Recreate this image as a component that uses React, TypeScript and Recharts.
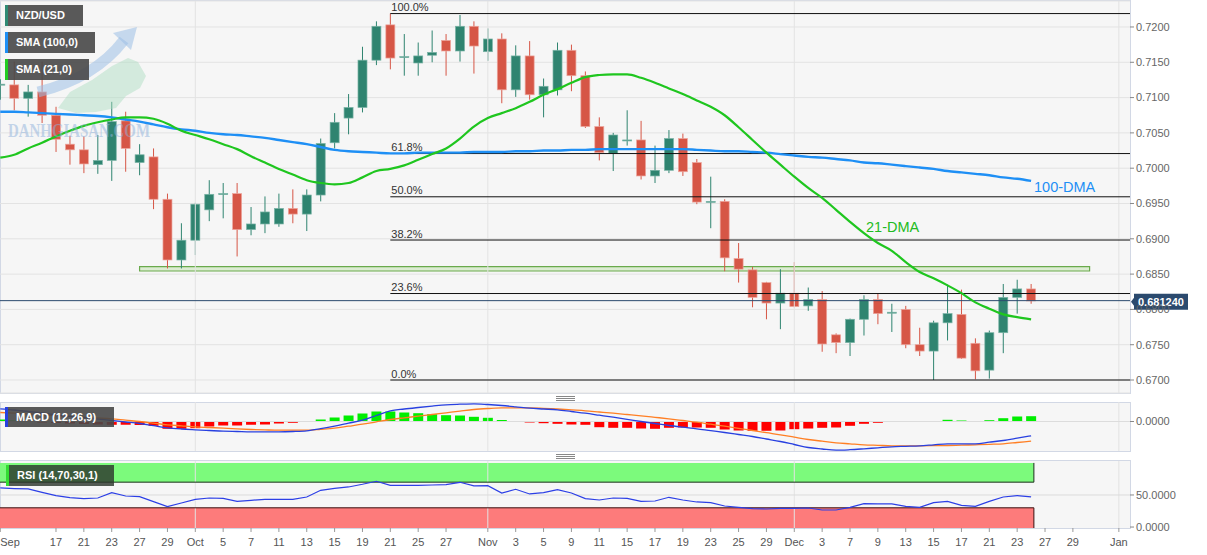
import React from "react";
import {
  ComposedChart,
  Bar,
  Line,
  XAxis,
  YAxis,
  CartesianGrid,
  ReferenceLine,
  ReferenceArea,
  Cell,
} from "recharts";

const FONT = "'Liberation Sans', Arial, sans-serif";

// trading days: index -4 = 13 Sep 2021, index 0 = 17 Sep, index 70 = 24 Dec
const firstIndex = -4;
const xDomain: [number, number] = [-4.02, 77.1];

const opens = [
  0.7118, 0.7118, 0.7099, 0.7108, 0.7075, 0.7034, 0.7026, 0.7005, 0.7011, 0.7067,
  0.7008, 0.7016, 0.6956, 0.6870, 0.6898, 0.6941, 0.6963, 0.6964, 0.6913, 0.6921,
  0.6921, 0.6943, 0.6935, 0.6962, 0.7036, 0.7071, 0.7086, 0.7153, 0.7203, 0.7157,
  0.7149, 0.7160, 0.7181, 0.7166, 0.7201, 0.7165, 0.7183, 0.7111, 0.7159, 0.7104,
  0.7111, 0.7167, 0.7131, 0.7059, 0.7021, 0.7039, 0.7040, 0.6989, 0.6997, 0.7042,
  0.7008, 0.6952, 0.6953, 0.6872, 0.6856, 0.6838, 0.6809, 0.6823, 0.6805, 0.6814,
  0.6764, 0.6753, 0.6786, 0.6814, 0.6795, 0.6800, 0.6750, 0.6741, 0.6781, 0.6793,
  0.6752, 0.6714, 0.6767, 0.6817, 0.6829,
];
const highs = [
  0.7126, 0.7151, 0.7118, 0.7151, 0.7087, 0.7046, 0.7045, 0.7047, 0.7094, 0.7080,
  0.7034, 0.7028, 0.6964, 0.6922, 0.6951, 0.6983, 0.6979, 0.6979, 0.6945, 0.6960,
  0.6964, 0.6970, 0.6970, 0.7042, 0.7078, 0.7105, 0.7172, 0.7208, 0.7219, 0.7190,
  0.7178, 0.7195, 0.7190, 0.7217, 0.7208, 0.7198, 0.7191, 0.7174, 0.7180, 0.7127,
  0.7178, 0.7175, 0.7137, 0.7072, 0.7050, 0.7082, 0.7067, 0.7032, 0.7054, 0.7049,
  0.7013, 0.6988, 0.6956, 0.6894, 0.6860, 0.6839, 0.6857, 0.6867, 0.6831, 0.6826,
  0.6766, 0.6787, 0.6820, 0.6822, 0.6808, 0.6805, 0.6774, 0.6784, 0.6835, 0.6828,
  0.6759, 0.6770, 0.6836, 0.6842, 0.6836,
];
const lows = [
  0.7097, 0.7082, 0.7073, 0.7064, 0.7023, 0.7005, 0.6993, 0.6992, 0.6982, 0.6995,
  0.6990, 0.6942, 0.6858, 0.6858, 0.6877, 0.6925, 0.6929, 0.6875, 0.6905, 0.6908,
  0.6917, 0.6922, 0.6911, 0.6953, 0.7028, 0.7048, 0.7079, 0.7146, 0.7140, 0.7131,
  0.7131, 0.7150, 0.7131, 0.7151, 0.7134, 0.7152, 0.7092, 0.7101, 0.7097, 0.7072,
  0.7103, 0.7109, 0.7057, 0.7011, 0.6996, 0.7032, 0.6984, 0.6979, 0.6993, 0.6989,
  0.6949, 0.6915, 0.6854, 0.6838, 0.6803, 0.6786, 0.6772, 0.6803, 0.6798, 0.6740,
  0.6738, 0.6734, 0.6763, 0.6779, 0.6768, 0.6745, 0.6734, 0.6700, 0.6756, 0.6730,
  0.6701, 0.6702, 0.6738, 0.6794, 0.6808,
];
const closes = [
  0.7119, 0.7099, 0.7108, 0.7075, 0.7041, 0.7026, 0.7006, 0.7011, 0.7066, 0.7028,
  0.7019, 0.6956, 0.6870, 0.6898, 0.6949, 0.6963, 0.6964, 0.6913, 0.6921, 0.6938,
  0.6943, 0.6935, 0.6962, 0.7035, 0.7065, 0.7086, 0.7153, 0.7201, 0.7156, 0.7158,
  0.7159, 0.7164, 0.7166, 0.7201, 0.7173, 0.7183, 0.7111, 0.7159, 0.7104, 0.7116,
  0.7167, 0.7131, 0.7059, 0.7022, 0.7047, 0.7040, 0.6989, 0.6997, 0.7042, 0.6995,
  0.6952, 0.6953, 0.6873, 0.6857, 0.6817, 0.6809, 0.6823, 0.6804, 0.6814, 0.6751,
  0.6753, 0.6786, 0.6814, 0.6794, 0.6796, 0.6750, 0.6741, 0.6781, 0.6794, 0.6731,
  0.6713, 0.6767, 0.6817, 0.6829, 0.6812,
];
const sma100 = [
  0.7080, 0.7080, 0.7079, 0.7078, 0.7077, 0.7076, 0.7075, 0.7074, 0.7072, 0.7069,
  0.7066, 0.7062, 0.7058, 0.7055, 0.7053, 0.7050, 0.7048, 0.7047, 0.7045, 0.7043,
  0.7040, 0.7037, 0.7034, 0.7030, 0.7026, 0.7024, 0.7023, 0.7022, 0.7021, 0.7021,
  0.7022, 0.7022, 0.7022, 0.7022, 0.7023, 0.7023, 0.7023, 0.7024, 0.7024, 0.7025,
  0.7025, 0.7026, 0.7026, 0.7027, 0.7027, 0.7027, 0.7027, 0.7027, 0.7027, 0.7027,
  0.7026, 0.7025, 0.7024, 0.7024, 0.7023, 0.7022, 0.7020, 0.7018, 0.7016, 0.7015,
  0.7013, 0.7011, 0.7008, 0.7007, 0.7005, 0.7003, 0.7001, 0.6999, 0.6996, 0.6994,
  0.6992, 0.6990, 0.6987, 0.6985, 0.6982,
];
const sma21 = [
  0.7015, 0.7019, 0.7028, 0.7036, 0.7045, 0.7053, 0.7060, 0.7065, 0.7069, 0.7072,
  0.7072, 0.7070, 0.7063, 0.7053, 0.7047, 0.7041, 0.7034, 0.7027, 0.7017, 0.7008,
  0.6999, 0.6991, 0.6983, 0.6979, 0.6977, 0.6979, 0.6987, 0.6996, 0.6999, 0.7004,
  0.7012, 0.7020, 0.7028, 0.7042, 0.7059, 0.7071, 0.7078, 0.7085, 0.7094, 0.7104,
  0.7112, 0.7121, 0.7129, 0.7132, 0.7133, 0.7133, 0.7128, 0.7121, 0.7113, 0.7105,
  0.7096, 0.7087, 0.7075, 0.7058, 0.7040, 0.7022, 0.7005, 0.6988, 0.6972, 0.6958,
  0.6941, 0.6924, 0.6908, 0.6894, 0.6883, 0.6867, 0.6853, 0.6844, 0.6834, 0.6823,
  0.6810, 0.6801, 0.6793, 0.6789, 0.6786,
];

// MACD values in units of 1e-4
const macdLine = [
  12.7, 11.5, 10, 8.5, 6.7, 5.2, 3.8, 2.4, 1, -0.5,
  -2, -4.2, -6.3, -7.5, -8.3, -9, -9.7, -10, -10.3, -10.3,
  -10.3, -10, -9.3, -7.2, -4.7, -1.7, 1.3, 6, 10.7, 12.5,
  14, 15.4, 16.7, 17.3, 17.7, 17, 16, 14.7, 13.3, 12.5,
  11.7, 10, 8.3, 6.3, 4.3, 2.2, 0, -2, -4, -5.7,
  -7.3, -9.2, -11, -13, -15, -17.5, -20, -23, -26, -27.5,
  -28.7, -28.2, -27.3, -26.3, -25.3, -24.8, -24.3, -23.3, -22.3, -22.3,
  -22.3, -20.7, -19, -16.7, -14.3,
];
const signalLine = [
  9, 8.3, 7.6, 6.8, 6, 5.2, 4.3, 3.5, 2.7, 1.3,
  0, -1.6, -3.3, -4.3, -5.3, -6, -6.7, -7.4, -8, -8.4,
  -8.7, -8.7, -8.7, -7.8, -6.7, -4.7, -2.7, -0.3, 2, 3.7,
  5.3, 7, 8.7, 10.4, 12, 13, 13.7, 13.7, 13.7, 13.2,
  12.5, 11.6, 10.7, 9.5, 8.3, 7, 5.7, 4.2, 2.7, 1,
  -0.7, -2.7, -4.7, -6.8, -9, -11.2, -13.3, -15.7, -18, -19.7,
  -21.3, -22.3, -23.3, -23.8, -24.3, -24.3, -24.3, -24.2, -24, -23.7,
  -23.3, -22.8, -22.3, -21, -19.7,
];
const macdHist = [
  2, 1, -0.5, -1, -1.5, -2, -2.5, -3, -3.3, -3.3,
  -3.5, -4.3, -7.3, -7.3, -6.7, -5, -4, -4, -3.3, -3,
  -2, -1.3, -0.5, 2, 4, 6, 8, 10, 10, 9,
  8.3, 7.3, 6.3, 6, 4.7, 3.7, 1.5, 0.5, -1, -1.7,
  -2.3, -3, -3.3, -5.7, -6.3, -6.3, -7, -7.3, -6.3, -6,
  -6, -6.3, -8, -9, -9.3, -9.3, -9, -7.7, -7, -6.3,
  -6, -4.3, -2.3, -1.3, -0.5, -0.3, -0.3, 0.3, 1.7, 1,
  0.5, 1.3, 3.3, 5, 5.3,
];
const rsiValues = [
  61, 60, 59.4, 54, 49, 46, 44.3, 45.3, 53.6, 48.4,
  47.4, 39.6, 31.8, 37.5, 43.2, 45.3, 44.8, 40.1, 41.7, 43.2,
  43.2, 43.2, 46.9, 57.3, 60.4, 62.5, 66.7, 71.4, 65.1, 65.1,
  65.1, 65.6, 66.1, 69.8, 64.1, 64.6, 53.1, 58.9, 51.6, 53.6,
  58.3, 53.1, 44.3, 42.2, 45.3, 44.8, 40.1, 40.6, 46.4, 42.2,
  39.1, 38.0, 32.8, 30.7, 28.6, 28.1, 29.2, 29.2, 29.7, 26.6,
  26.6, 30.7, 36.5, 36.0, 36.0, 32.3, 30.7, 38.0, 40.1, 33.9,
  32.3, 40.1, 46.9, 49.0, 46.9,
];

const dayTickIndex = [
  -4, 0, 2, 4, 6, 8, 10, 12, 14, 16, 18, 20, 22, 24, 26, 28, 31, 33, 35, 37,
  39, 41, 43, 45, 47, 49, 51, 53, 55, 57, 59, 61, 63, 65, 67, 69, 71, 73, 76.3,
];
const dayTickLabels = [
  "Sep", "17", "21", "23", "27", "29", "Oct", "5", "7", "11", "13", "15", "19", "21",
  "25", "27", "Nov", "3", "5", "9", "11", "15", "17", "19", "23", "25", "29", "Dec",
  "3", "7", "9", "13", "15", "17", "21", "23", "27", "29", "Jan",
];
const monthLines = [10, 31, 53, 76.3];

const priceTicks = [0.67, 0.675, 0.68, 0.685, 0.69, 0.695, 0.7, 0.705, 0.71, 0.715, 0.72];
const swingHigh = 0.7219;
const swingLow = 0.67;
const fibLevels = [1, 0.618, 0.5, 0.382, 0.236, 0];
const fibLabels = ["100.0%", "61.8%", "50.0%", "38.2%", "23.6%", "0.0%"];
const fibStart = 24; // the 21 Oct high
const lastPrice = 0.68124;
const supportZone = [0.68544, 0.68605];

const rows = opens.map((o, k) => ({
  x: k + firstIndex,
  open: o,
  high: highs[k],
  low: lows[k],
  close: closes[k],
  range: [lows[k], highs[k]],
  sma100: sma100[k],
  sma21: sma21[k],
  macd: macdLine[k],
  signal: signalLine[k],
  hist: macdHist[k],
  rsi: rsiValues[k],
}));
const lastX = rows[rows.length - 1].x + 0.2;

const GRID = "#e3e3e3";

// draws wick + body from the bar's [low, high] pixel range
const Candle = (props: any) => {
  const { x, y, width, height, payload } = props;
  if (!payload || height === undefined) return null;
  const { open, close, high, low } = payload;
  const top = Math.min(y, y + height);
  const h = Math.abs(height);
  const perUnit = h / (high - low);
  const yOf = (v: number) => top + (high - v) * perUnit;
  const cx = x + width / 2;
  const up = close >= open;
  const bodyTop = yOf(Math.max(open, close));
  const bodyH = Math.max(1, Math.abs(yOf(open) - yOf(close)));
  const fill = up ? "#2f8470" : "#d65646";
  const edge = up ? "#79b3a5" : "#eda69d";
  return (
    <g>
      <line x1={cx} x2={cx} y1={top} y2={top + h} stroke={fill} strokeWidth={1} />
      <rect x={cx - 4.5} y={bodyTop} width={9} height={bodyH} fill={fill} stroke={edge} strokeWidth={0.7} />
    </g>
  );
};

const histColor = (v: number) => {
  if (v >= 0) return Math.abs(v) < 0.6 ? "#a6f5a6" : "#00ee00";
  return Math.abs(v) < 0.6 ? "#ffa0a0" : "#ff0000";
};

const DayTick = (props: any) => {
  const { x, y, payload } = props;
  const k = dayTickIndex.indexOf(payload.value);
  return (
    <text
      x={x}
      y={y}
      dy={12}
      textAnchor={k === 0 ? "start" : "middle"}
      fontSize={11}
      fontFamily={FONT}
      fill="#555"
    >
      {dayTickLabels[k] ?? ""}
    </text>
  );
};

const axisTick = { fontSize: 11, fill: "#666", fontFamily: FONT };

const panelStyle = (top: number, height: number): React.CSSProperties => ({
  position: "absolute",
  left: 0,
  top,
  width: 1131,
  height,
  boxSizing: "border-box",
  background: "#f6f6f6",
  border: "1px solid #d2d8e5",
});

const legendStyle = (
  left: number,
  top: number,
  width: number,
  height: number,
  accent: string,
  bg = "rgba(72,72,72,0.9)"
): React.CSSProperties => ({
  position: "absolute",
  left,
  top,
  width,
  height,
  boxSizing: "border-box",
  background: bg,
  borderLeft: `3px solid ${accent}`,
  color: "#fff",
  fontFamily: FONT,
  fontSize: 11,
  fontWeight: "bold",
  lineHeight: `${height}px`,
  paddingLeft: 8,
  whiteSpace: "nowrap",
});

const Handle = ({ top }: { top: number }) => (
  <div style={{ position: "absolute", left: 556, top, width: 19 }}>
    {[0, 2, 4].map((d) => (
      <div key={d} style={{ position: "absolute", top: d, left: 0, width: 19, height: 1, background: "#888" }} />
    ))}
  </div>
);

export default function App() {
  return (
    <div
      style={{
        position: "fixed",
        left: 0,
        top: 0,
        width: 1207,
        height: 555,
        background: "#fff",
        overflow: "hidden",
      }}
    >
      <div style={panelStyle(0, 394)} />
      <div style={panelStyle(402, 50)} />
      <div style={panelStyle(460, 69)} />

      {/* price panel */}
      <div style={{ position: "absolute", left: 0, top: 0 }}>
        <ComposedChart width={1207} height={398} data={rows} margin={{ top: 1, right: 0, left: 0, bottom: 5 }}>
          <CartesianGrid vertical={false} stroke={GRID} />
          <XAxis type="number" dataKey="x" domain={xDomain} allowDataOverflow hide />
          <YAxis
            orientation="right"
            width={77}
            domain={[0.66816, 0.72368]}
            ticks={priceTicks}
            allowDataOverflow
            axisLine={false}
            tickSize={4}
            tickMargin={2}
            tickLine={{ stroke: "#888" }}
            tick={axisTick}
            tickFormatter={(v: number) => v.toFixed(4)}
          />
          {monthLines.map((m) => (
            <ReferenceLine key={m} x={m} stroke={GRID} />
          ))}
          <ReferenceArea
            x1={6}
            x2={74.2}
            y1={supportZone[0]}
            y2={supportZone[1]}
            fill="#dcecd2"
            fillOpacity={1}
            stroke="#6aaa4c"
            strokeWidth={1.2}
          />
          {fibLevels.map((lvl, k) => {
            const price = swingLow + lvl * (swingHigh - swingLow);
            return (
              <ReferenceLine
                key={k}
                segment={[
                  { x: fibStart, y: price },
                  { x: xDomain[1], y: price },
                ]}
                stroke="#111"
                strokeWidth={1}
                label={(p: any) => (
                  <text
                    x={(p.viewBox?.x ?? 0) + 1}
                    y={(p.viewBox?.y ?? 0) - 2.5}
                    fontSize={11}
                    fontFamily={FONT}
                    fill="#333"
                  >
                    {fibLabels[k]}
                  </text>
                )}
              />
            );
          })}
          <ReferenceLine
            y={lastPrice}
            stroke="#2b4a6e"
            strokeWidth={1}
            label={(p: any) => {
              const vx = (p.viewBox?.x ?? 0) + (p.viewBox?.width ?? 0);
              const vy = p.viewBox?.y ?? 0;
              return (
                <g>
                  <path
                    d={`M${vx + 1},${vy + 1} L${vx + 4},${vy - 3} L${vx + 4},${vy - 7} L${vx + 58},${vy - 7} L${vx + 58},${vy + 9} L${vx + 4},${vy + 9} L${vx + 4},${vy + 5} Z`}
                    fill="#2b4a6e"
                  />
                  <text x={vx + 8} y={vy + 5} fontSize={11} fontWeight="bold" fontFamily={FONT} fill="#fff">
                    {lastPrice.toFixed(6)}
                  </text>
                </g>
              );
            }}
          />
          <Bar dataKey="range" barSize={10} shape={<Candle />} isAnimationActive={false} />
          <Line
            type="monotone"
            dataKey="sma100"
            stroke="#1e8ff5"
            strokeWidth={2.4}
            dot={false}
            isAnimationActive={false}
          />
          <Line
            type="monotone"
            dataKey="sma21"
            stroke="#1fc61f"
            strokeWidth={2.2}
            dot={false}
            isAnimationActive={false}
          />
        </ComposedChart>
      </div>

      {/* MACD panel */}
      <div style={{ position: "absolute", left: 0, top: 396 }}>
        <ComposedChart width={1207} height={60} data={rows} margin={{ top: 6, right: 0, left: 0, bottom: 5 }}>
          <XAxis type="number" dataKey="x" domain={xDomain} allowDataOverflow hide />
          <YAxis
            orientation="right"
            width={77}
            domain={[-29.5, 19.5]}
            ticks={[0]}
            allowDataOverflow
            axisLine={false}
            tickSize={4}
            tickMargin={2}
            tickLine={{ stroke: "#888" }}
            tick={axisTick}
            tickFormatter={() => "0.0000"}
          />
          {monthLines.map((m) => (
            <ReferenceLine key={m} x={m} stroke={GRID} />
          ))}
          <ReferenceLine y={0} stroke="#dcdcdc" />
          <Bar dataKey="hist" barSize={10} isAnimationActive={false}>
            {rows.map((r, k) => (
              <Cell key={k} fill={histColor(r.hist)} />
            ))}
          </Bar>
          <Line type="monotone" dataKey="signal" stroke="#ff7f24" strokeWidth={1.3} dot={false} isAnimationActive={false} />
          <Line type="monotone" dataKey="macd" stroke="#2840e0" strokeWidth={1.3} dot={false} isAnimationActive={false} />
        </ComposedChart>
      </div>

      {/* RSI panel */}
      <div style={{ position: "absolute", left: 0, top: 455 }}>
        <ComposedChart width={1207} height={100} data={rows} margin={{ top: 6, right: 0, left: 0, bottom: 0 }}>
          <XAxis
            type="number"
            dataKey="x"
            domain={xDomain}
            allowDataOverflow
            ticks={dayTickIndex}
            interval={0}
            height={27}
            axisLine={false}
            tickSize={4}
            tickMargin={2}
            tickLine={{ stroke: "#999" }}
            tick={<DayTick />}
          />
          <YAxis
            orientation="right"
            width={77}
            domain={[-1.5, 103]}
            ticks={[0, 50]}
            allowDataOverflow
            axisLine={false}
            tickSize={4}
            tickMargin={2}
            tickLine={{ stroke: "#888" }}
            tick={axisTick}
            tickFormatter={(v: number) => v.toFixed(4)}
          />
          {monthLines.map((m) => (
            <ReferenceLine key={m} x={m} stroke={GRID} />
          ))}
          <ReferenceLine y={50} stroke="#dcdcdc" />
          <ReferenceArea x1={xDomain[0]} x2={lastX} y1={70} y2={100} fill="#7cfa7c" fillOpacity={1} />
          <ReferenceArea x1={xDomain[0]} x2={lastX} y1={-1.5} y2={30} fill="#fd7b7b" fillOpacity={1} />
          <ReferenceLine segment={[{ x: xDomain[0], y: 70 }, { x: lastX, y: 70 }]} stroke="#1d2e1d" />
          <ReferenceLine segment={[{ x: xDomain[0], y: 30 }, { x: lastX, y: 30 }]} stroke="#3a1010" />
          <ReferenceLine segment={[{ x: lastX, y: 70 }, { x: lastX, y: 100 }]} stroke="#1d2e1d" />
          <ReferenceLine segment={[{ x: lastX, y: -1.5 }, { x: lastX, y: 30 }]} stroke="#3a1010" />
          <Line type="linear" dataKey="rsi" stroke="#2c3fe6" strokeWidth={1.2} dot={false} isAnimationActive={false} />
        </ComposedChart>
      </div>

      {/* annotations and watermark */}
      <svg
        width={1207}
        height={555}
        style={{ position: "absolute", left: 0, top: 0, pointerEvents: "none" }}
      >
        <path d="M38,92 Q95,78 124,40" stroke="#9cc0e6" strokeWidth={11} fill="none" opacity={0.55} />
        <polygon points="137,27 113,33 131,50" fill="#9cc0e6" opacity={0.55} />
        <polygon
          points="58,108 70,92 92,80 112,66 128,58 138,62 146,76 140,88 126,96 116,108 96,112 76,113"
          fill="#a8dcbf"
          opacity={0.45}
        />
        <text
          x={8}
          y={137}
          fontSize={19}
          fontWeight="bold"
          fontFamily="'Liberation Serif', serif"
          textLength={142}
          lengthAdjust="spacingAndGlyphs"
          fill="#8fb2dc"
          opacity={0.5}
        >
          DANHGIASAN.COM
        </text>
        <text x={1034} y={192} fontSize={14.5} fontFamily={FONT} fill="#1e8ff5">
          100-DMA
        </text>
        <text x={866} y={232} fontSize={14.5} fontFamily={FONT} fill="#22bb22">
          21-DMA
        </text>
      </svg>

      <Handle top={396} />
      <Handle top={454} />

      <div style={legendStyle(5, 5, 78, 21, "#2e8a74")}>NZD/USD</div>
      <div style={legendStyle(5, 32, 90, 21, "#1e8ff5")}>SMA (100,0)</div>
      <div style={legendStyle(5, 59, 84, 21, "#22cc22")}>SMA (21,0)</div>
      <div style={legendStyle(5, 407, 109, 20, "#2840e0")}>MACD (12,26,9)</div>
      <div style={legendStyle(6, 465, 108, 21, "#33dd33", "rgba(45,55,45,0.82)")}>RSI (14,70,30,1)</div>
    </div>
  );
}
